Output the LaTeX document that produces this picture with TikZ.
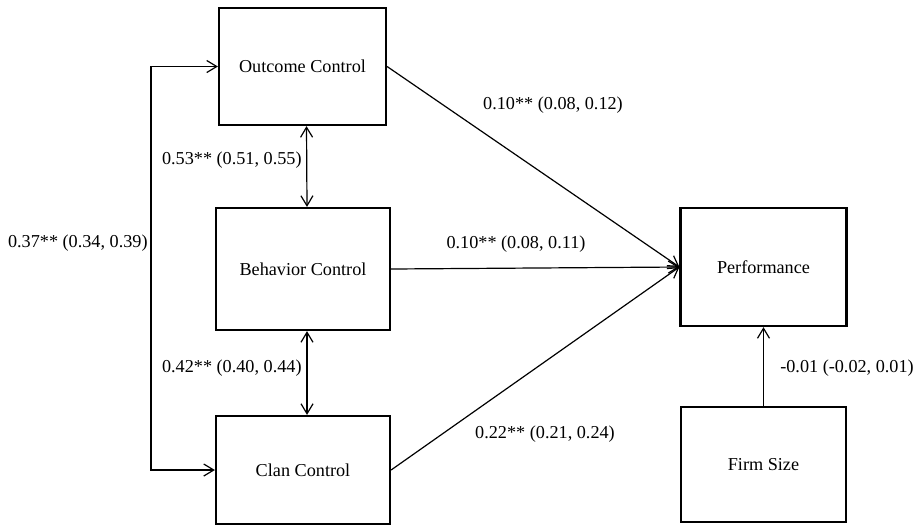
\documentclass[tikz,border=0pt]{standalone}
\usepackage{fontspec}
\setmainfont{Liberation Serif}
\usetikzlibrary{arrows.meta}

\tikzset{
  box/.style={draw,line width=1.1pt,align=center,inner sep=0pt},
  link/.style={line width=0.6pt},
  coef/.style={inner sep=0pt},
  >={Straight Barb[length=5pt,width=6pt,line width=0.6pt]}
}

\begin{document}
\begin{tikzpicture}[x=0.5pt,y=-0.5pt,font=\rmfamily\fontsize{9.1}{11}\selectfont]
            \useasboundingbox (0,0) rectangle (920,527);
            % control boxes
            \node[box,minimum width=83.5pt,minimum height=58.5pt] (outcome) at (302.5,66.5){Outcome Control};
            \node[box,minimum width=87pt,minimum height=61pt] (behavior) at (303,269){Behavior Control};
            \node[box,minimum width=87pt,minimum height=54pt] (clan) at (303,470){Clan Control};
            \node[box,minimum width=83pt,minimum height=59pt] (perf) at (763.5,267){Performance};
            \node[box,minimum width=82.5pt,minimum height=57.5pt] (firm) at (763.5,464.5){Firm Size};

            % paths to performance
            \draw[link,->] (outcome.east) -- (perf.west);
            \draw[link,->] (behavior.east) -- (perf.west);
            \draw[link,->] (clan.east) -- (perf.west);
            \draw[link,->] (firm.north) -- (perf.south);

            % correlations
            \draw[link,<->] ([xshift=2pt]outcome.south) -- ([xshift=2pt]behavior.north);
            \draw[link,<->] ([xshift=2pt]behavior.south) -- ([xshift=2pt]clan.north);
            \draw[link,<->] (outcome.west) -- ++(-67,0) |- (clan.west);

            \node[coef] (c1) at (553,105){0.10** (0.08, 0.12)};
            \node[coef] (c2) at (516,244){0.10** (0.08, 0.11)};
            \node[coef] (c3) at (545,434){0.22** (0.21, 0.24)};
            \node[coef,anchor=east] (c4) at (302,160){0.53** (0.51, 0.55)};
            \node[coef,anchor=east] (c5) at (302,368){0.42** (0.40, 0.44)};
            \node[coef,anchor=east] (c6) at (148,243){0.37** (0.34, 0.39)};
            \node[coef] (c7) at (847,368){-0.01 (-0.02, 0.01)};
        \end{tikzpicture}
\end{document}
